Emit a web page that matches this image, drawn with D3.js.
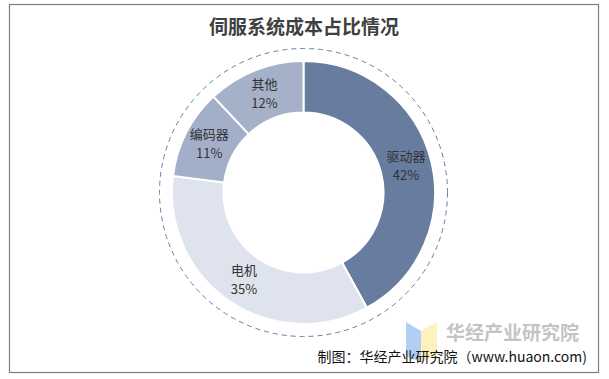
<!DOCTYPE html>
<html><head><meta charset="utf-8">
<script src="https://cdn.jsdelivr.net/npm/d3@7"></script>
<style>body{margin:0;background:#fff}svg{display:block}</style>
</head><body>
<svg id="c" width="609" height="379"></svg>
<script>
const categories = ["驱动器", "电机", "编码器", "其他"];
const values = [42, 35, 11, 12];
const colors = ["#687ca0", "#dfe3ed", "#a3afc8", "#a5b1c8"];
const title = "伺服系统成本占比情况";
const source = "制图：华经产业研究院（www.huaon.com)";
const font = "'Noto Sans CJK SC', 'Noto Sans', sans-serif";

const svg = d3.select("#c");
svg.append("rect").attr("x", 9.5).attr("y", 4.5).attr("width", 589).attr("height", 368)
  .attr("fill", "#fff").attr("stroke", "#7f7f7f").attr("stroke-width", 1.2);

svg.append("text").attr("x", 304).attr("y", 34).attr("text-anchor", "middle")
  .attr("font-family", font).attr("font-weight", "bold").attr("font-size", 19)
  .attr("fill", "#404040").text(title);

const cx = 303.5, cy = 192.5;
const g = svg.append("g").attr("transform", `translate(${cx},${cy})`);

g.append("circle").attr("r", 144).attr("fill", "none").attr("stroke", "#6a7da3")
  .attr("stroke-width", 1).attr("stroke-dasharray", "5,4");

const pie = d3.pie().sort(null).value(d => d.v);
const data = pie(categories.map((c, i) => ({c, v: values[i], col: colors[i]})));
const arc = d3.arc().innerRadius(80).outerRadius(131.5);

g.selectAll("path.s").data(data).join("path").attr("class", "s")
  .attr("d", arc).attr("fill", d => d.data.col)
  .attr("stroke", "#fff").attr("stroke-width", 2);

const lbl = g.selectAll("g.l").data(data).join("g").attr("class", "l")
  .attr("transform", d => `translate(${arc.centroid(d)})`);
lbl.append("text").attr("text-anchor", "middle").attr("y", -5)
  .attr("font-family", font).attr("font-size", 13).attr("fill", "#333")
  .text(d => d.data.c);
lbl.append("text").attr("text-anchor", "middle").attr("y", 14)
  .attr("font-family", font).attr("font-size", 13).attr("fill", "#333")
  .text(d => d.data.v + "%");

// watermark
const wm = svg.append("g");
wm.append("path").attr("d", "M406,322 L421,331 L421,362 L406,356 Z").attr("fill", "#a9c9f2").attr("opacity", 0.9);
wm.append("path").attr("d", "M421,331 L437,322 L437,356 L421,362 Z").attr("fill", "#fdf1b5").attr("opacity", 0.9);
wm.append("text").attr("x", 446).attr("y", 340).attr("font-family", font).attr("font-weight", "bold")
  .attr("font-size", 19).attr("fill", "#c4c4c4").text("华经产业研究院");

svg.append("text").attr("x", 587).attr("y", 362).attr("text-anchor", "end")
  .attr("font-family", font).attr("font-size", 14).attr("fill", "#111").text(source);
</script>
</body></html>
